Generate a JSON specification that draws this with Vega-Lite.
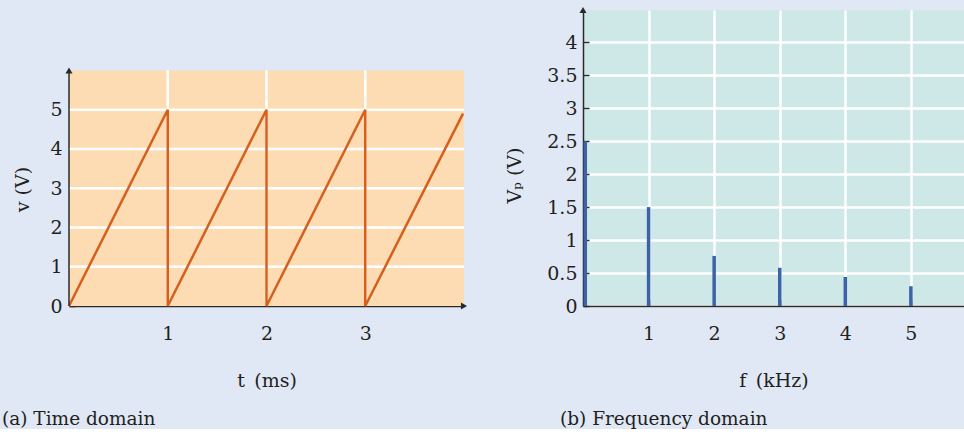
{
  "$schema": "https://vega.github.io/schema/vega-lite/v6.json",
  "background": "#e1e8f5",
  "padding": {"left": 2, "top": 6, "right": 0, "bottom": 0},
  "config": {
    "view": {"stroke": null},
    "font": "DejaVu Serif",
    "axis": {
      "labelFont": "DejaVu Serif", "titleFont": "DejaVu Serif",
      "labelFontSize": 19, "titleFontSize": 19, "titleFontWeight": "normal",
      "labelColor": "#231f20", "titleColor": "#231f20",
      "domainColor": "#2a2a2a", "tickColor": "#2a2a2a",
      "tickSize": -6, "tickWidth": 1.5, "domainWidth": 1.5,
      "gridColor": "#ffffff", "gridWidth": 2.5, "gridOpacity": 1,
      "labelOverlap": false, "format": "~g"
    },
    "title": {"font": "DejaVu Serif", "fontSize": 18.5, "fontWeight": "normal", "color": "#231f20"}
  },
  "datasets": {
    "bgA": [{"x": 0, "x2": 4, "y": 0, "y2": 6}],
    "hgridA": [{"y": 1}, {"y": 2}, {"y": 3}, {"y": 4}, {"y": 5}],
    "vgridA": [{"x": 1}, {"x": 2}, {"x": 3}],
    "saw": [
      {"i": 0, "x": 0, "y": 0},
      {"i": 1, "x": 1, "y": 5},
      {"i": 2, "x": 1, "y": 0},
      {"i": 3, "x": 2, "y": 5},
      {"i": 4, "x": 2, "y": 0},
      {"i": 5, "x": 3, "y": 5},
      {"i": 6, "x": 3, "y": 0},
      {"i": 7, "x": 3.99, "y": 4.9}
    ],
    "spec": [
      {"f": 0.035, "v": 2.5},
      {"f": 1, "v": 1.5},
      {"f": 2, "v": 0.76},
      {"f": 3, "v": 0.58},
      {"f": 4, "v": 0.44},
      {"f": 5, "v": 0.3}
    ],
    "arrowB": [{"f": 0, "v": 4.49}]
  },
  "bounds": "flush",
  "spacing": 119,
  "hconcat": [
    {
      "width": 395,
      "height": 296,
      "title": {"text": "(a) Time domain", "orient": "bottom", "anchor": "start", "frame": "group", "dx": -67, "offset": 20},
      "layer": [
        {
          "data": {"name": "bgA"},
          "mark": {"type": "rect", "fill": "#fddcb4"},
          "encoding": {
            "x": {"field": "x", "type": "quantitative", "scale": {"domain": [0, 4], "nice": false, "zero": false},
              "axis": {"values": [1, 2, 3], "title": "t\u2002(ms)", "grid": false, "labelPadding": 24, "titlePadding": 28}},
            "x2": {"field": "x2"},
            "y": {"field": "y", "type": "quantitative", "scale": {"domain": [0, 7.54], "nice": false},
              "axis": {"values": [0, 1, 2, 3, 4, 5], "title": "v (V)", "grid": false, "domain": false, "labelPadding": 13, "titlePadding": 17, "titleY": 179}},
            "y2": {"field": "y2"}
          }
        },
        {
          "data": {"name": "hgridA"},
          "mark": {"type": "rule", "color": "#ffffff", "strokeWidth": 2.5},
          "encoding": {"y": {"field": "y", "type": "quantitative"}, "x": {"datum": 0}, "x2": {"datum": 4}}
        },
        {
          "data": {"name": "vgridA"},
          "mark": {"type": "rule", "color": "#ffffff", "strokeWidth": 2.5},
          "encoding": {"x": {"field": "x", "type": "quantitative"}, "y": {"datum": 0}, "y2": {"datum": 6}}
        },
        {
          "data": {"name": "saw"},
          "mark": {"type": "line", "color": "#d65f1e", "strokeWidth": 2.5},
          "encoding": {
            "x": {"field": "x", "type": "quantitative"},
            "y": {"field": "y", "type": "quantitative"},
            "order": {"field": "i", "type": "quantitative"}
          }
        },
        {
          "data": {"name": "bgA"},
          "mark": {"type": "rule", "color": "#2a2a2a", "strokeWidth": 1.5},
          "encoding": {"x": {"datum": 0}, "y": {"datum": 0}, "y2": {"datum": 6}}
        },
        {
          "data": {"name": "bgA"},
          "mark": {"type": "point", "shape": "triangle-up", "filled": true, "color": "#2a2a2a", "size": 50, "opacity": 1},
          "encoding": {"x": {"datum": 0}, "y": {"datum": 6}}
        },
        {
          "data": {"name": "bgA"},
          "mark": {"type": "point", "shape": "triangle-right", "filled": true, "color": "#2a2a2a", "size": 50, "opacity": 1},
          "encoding": {"x": {"datum": 4}, "y": {"datum": 0}}
        }
      ]
    },
    {
      "width": 381,
      "height": 296,
      "view": {"fill": "#cde8e6", "stroke": null},
      "title": {"text": "(b) Frequency domain", "orient": "bottom", "anchor": "start", "frame": "group", "dx": -23, "offset": 20},
      "layer": [
        {
          "data": {"name": "spec"},
          "mark": {"type": "rule", "color": "#3c63a8", "strokeWidth": 3.5},
          "encoding": {
            "x": {"field": "f", "type": "quantitative", "scale": {"domain": [0, 5.81], "nice": false, "zero": false},
              "axis": {"values": [1, 2, 3, 4, 5], "title": "f\u2002(kHz)", "grid": true, "labelPadding": 24, "titlePadding": 28}},
            "y": {"field": "v", "type": "quantitative", "scale": {"domain": [0, 4.49], "nice": false},
              "axis": {"values": [0, 0.5, 1, 1.5, 2, 2.5, 3, 3.5, 4], "title": "Vₚ (V)", "grid": true, "labelPadding": 12, "titlePadding": 22, "titleY": 165}},
            "y2": {"datum": 0}
          }
        },
        {
          "data": {"name": "arrowB"},
          "mark": {"type": "point", "shape": "triangle-up", "filled": true, "color": "#2a2a2a", "size": 50, "opacity": 1},
          "encoding": {
            "x": {"field": "f", "type": "quantitative",
              "axis": {"values": [1, 2, 3, 4, 5], "title": "f\u2002(kHz)", "grid": true, "labelPadding": 24, "titlePadding": 28}},
            "y": {"field": "v", "type": "quantitative",
              "axis": {"values": [0, 0.5, 1, 1.5, 2, 2.5, 3, 3.5, 4], "title": "Vₚ (V)", "grid": true, "labelPadding": 12, "titlePadding": 22, "titleY": 165}}
          }
        }
      ]
    }
  ]
}
